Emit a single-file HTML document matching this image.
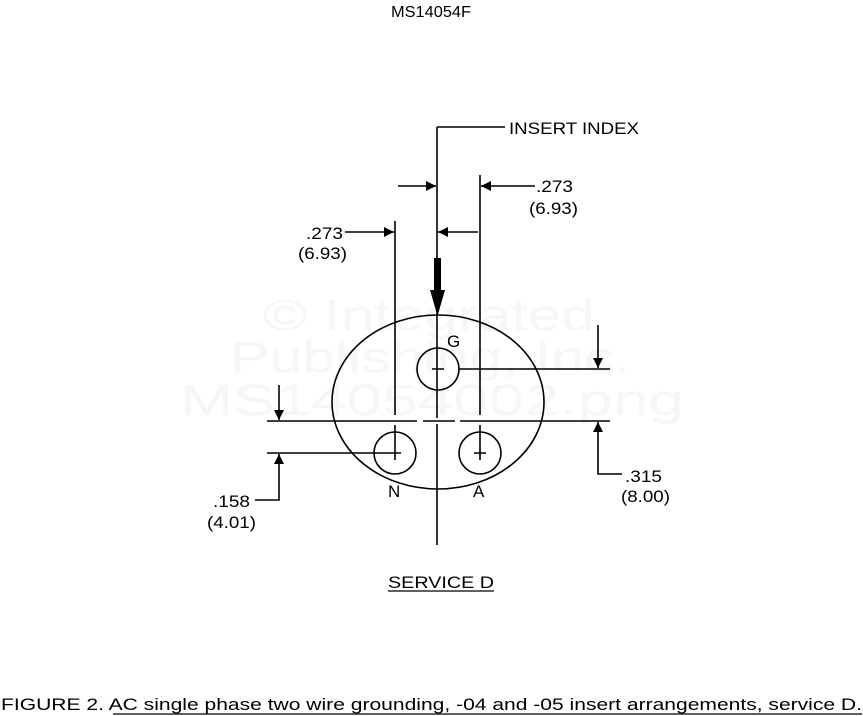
<!DOCTYPE html>
<html><head><style>body{margin:0;background:#fff}svg{display:block}</style></head>
<body>
<svg width="863" height="716" viewBox="0 0 863 716" xmlns="http://www.w3.org/2000/svg" font-family="Liberation Sans, sans-serif">
<defs>
<marker id="ah" viewBox="0 0 10 10" refX="10" refY="5" markerWidth="17" markerHeight="10" markerUnits="userSpaceOnUse" orient="auto"><path d="M0,0 L10,5 L0,10z" fill="#000"/></marker>
</defs>
<text x="391" y="17" font-size="16" textLength="80" lengthAdjust="spacingAndGlyphs">MS14054F</text>
<g font-size="44" fill="#f6f6f6">
<text x="263" y="330" textLength="332" lengthAdjust="spacingAndGlyphs">© Integrated</text>
<text x="230" y="372" textLength="400" lengthAdjust="spacingAndGlyphs">Publishing, Inc.</text>
<text x="180" y="415" textLength="504" lengthAdjust="spacingAndGlyphs">MS14054002.png</text>
</g>
<g stroke="#000" stroke-width="1.6" fill="none">
<ellipse cx="438" cy="402" rx="106" ry="87"/>
<circle cx="438" cy="369" r="21"/>
<circle cx="395" cy="453" r="21"/>
<circle cx="480" cy="453" r="21"/>
<path d="M437,127 V418 M437,424 V545"/>
<path d="M437,127 H505"/>
<path d="M267,421 H417 M423,421 H455 M460,421 H610"/>
<path d="M395,221 V415 M395,425 V460"/>
<path d="M480,175 V415 M480,425 V460"/>
<path d="M432,369 H444 M389,453 H401 M474,453 H486"/>
<path d="M459,369 H610"/>
<path d="M267,453 H389"/>
<path d="M398,186 H436" marker-end="url(#ah)"/>
<path d="M535,186 H481" marker-end="url(#ah)"/>
<path d="M345,232 H394" marker-end="url(#ah)"/>
<path d="M478,232 H438" marker-end="url(#ah)"/>
<path d="M598,325 V368" marker-end="url(#ah)"/>
<path d="M622,474 H598 V422" marker-end="url(#ah)"/>
<path d="M279,385 V420" marker-end="url(#ah)"/>
<path d="M255,500 H279 V454" marker-end="url(#ah)"/>
</g>
<path d="M434,258 H441 V290 L445,290 L437.5,316 L430,290 L434,290 Z" fill="#000"/>
<g font-size="17">
<text x="509" y="134" textLength="130" lengthAdjust="spacingAndGlyphs">INSERT INDEX</text>
<text x="536" y="192" textLength="37" lengthAdjust="spacingAndGlyphs">.273</text>
<text x="529" y="214" textLength="49" lengthAdjust="spacingAndGlyphs">(6.93)</text>
<text x="306" y="239" textLength="37" lengthAdjust="spacingAndGlyphs">.273</text>
<text x="298" y="259" textLength="49" lengthAdjust="spacingAndGlyphs">(6.93)</text>
<text x="625" y="482" textLength="37" lengthAdjust="spacingAndGlyphs">.315</text>
<text x="621" y="502" textLength="49" lengthAdjust="spacingAndGlyphs">(8.00)</text>
<text x="213" y="507" textLength="37" lengthAdjust="spacingAndGlyphs">.158</text>
<text x="207" y="528" textLength="49" lengthAdjust="spacingAndGlyphs">(4.01)</text>
<text x="447" y="347">G</text>
<text x="388" y="497">N</text>
<text x="473" y="497">A</text>
<text x="388" y="588" textLength="106" lengthAdjust="spacingAndGlyphs">SERVICE  D</text>
<text x="1" y="710" textLength="861" lengthAdjust="spacingAndGlyphs">FIGURE 2.  AC single phase two wire grounding, -04 and -05 insert arrangements, service D.</text>
</g>
<path d="M388,591 H494 M113,714 H862" stroke="#000" stroke-width="1.3"/>
</svg>
</body></html>
